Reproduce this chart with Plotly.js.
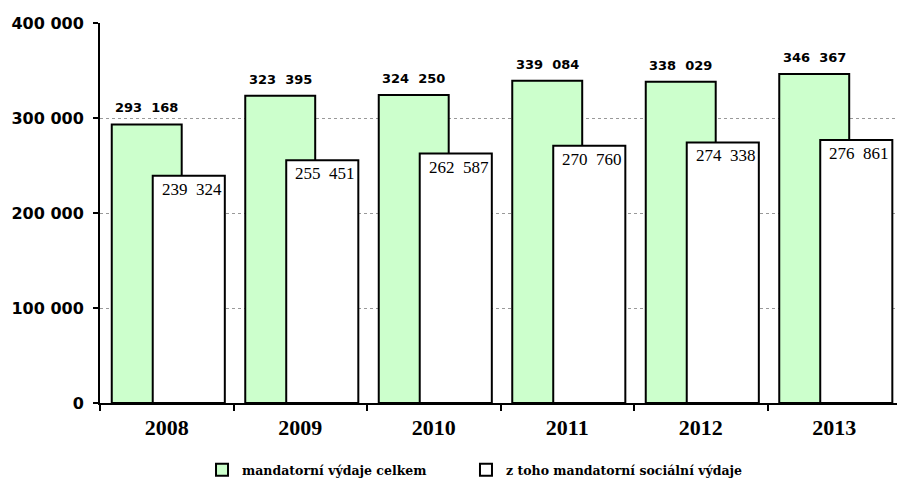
<!DOCTYPE html>
<html>
<head>
<meta charset="utf-8">
<script src="https://cdn.plot.ly/plotly-3.0.1.min.js"></script>
<style>
  html, body { margin: 0; padding: 0; background: #fff; }
  #chart { width: 897px; height: 483px; }
</style>
</head>
<body>
<div id="chart"></div>
<script>
// ---- data ----
const years = ['2008', '2009', '2010', '2011', '2012', '2013'];
const totalMandatory = [293168, 323395, 324250, 339084, 338029, 346367];
const socialMandatory = [239324, 255451, 262587, 270760, 274338, 276861];
const seriesNames = ['mandatorní výdaje celkem', 'z toho mandatorní sociální výdaje'];
const yTickVals = [0, 100000, 200000, 300000, 400000];
const yTickText = ['0', '100 000', '200 000', '300 000', '400 000'];

// ---- styling ----
const greenOffset = -0.412, greenWidth = 0.524;
const whiteOffset = -0.105, whiteWidth = 0.54;
const fmt = v => {
  const s = String(v);
  return s.slice(0, s.length - 3) + '\u00a0\u00a0' + s.slice(-3);
};

const traces = [
  {
    type: 'bar', name: seriesNames[0], x: years, y: totalMandatory,
    offset: greenOffset, width: greenWidth, legend: 'legend',
    marker: { color: '#ccffcc', line: { color: '#000', width: 2 } },
    hoverinfo: 'skip'
  },
  {
    type: 'bar', name: seriesNames[1], x: years, y: socialMandatory,
    offset: whiteOffset, width: whiteWidth, legend: 'legend2',
    marker: { color: '#ffffff', line: { color: '#000', width: 2 } },
    hoverinfo: 'skip'
  }
];

const annotations = [];
years.forEach((yr, i) => {
  annotations.push({
    x: i + greenOffset + greenWidth / 2, y: totalMandatory[i], xref: 'x', yref: 'y',
    text: fmt(totalMandatory[i]), showarrow: false, yanchor: 'bottom', yshift: 7,
    font: { family: 'DejaVu Sans', size: 13, color: '#000', weight: 'bold' }
  });
  annotations.push({
    x: i + whiteOffset + whiteWidth / 2, y: socialMandatory[i], xref: 'x', yref: 'y',
    text: fmt(socialMandatory[i]), showarrow: false, yanchor: 'top', yshift: -2, xshift: 3,
    font: { family: 'Liberation Serif', size: 17, color: '#000' }
  });
});

const legendFont = { family: 'DejaVu Serif', size: 12.5, color: '#000', weight: 'bold' };

const layout = {
  width: 897, height: 483,
  margin: { l: 100, r: 0, t: 23, b: 80 },
  paper_bgcolor: '#fff', plot_bgcolor: '#fff',
  barmode: 'overlay',
  showlegend: true,
  legend: {
    orientation: 'h', x: 0.128, xanchor: 'left',
    yref: 'container', y: 1 - 455 / 483, yanchor: 'top',
    font: legendFont
  },
  legend2: {
    orientation: 'h', x: 0.4592, xanchor: 'left',
    yref: 'container', y: 1 - 455 / 483, yanchor: 'top',
    font: legendFont
  },
  xaxis: {
    type: 'category', range: [-0.5, 5.47],
    showline: true, linecolor: '#000', linewidth: 2,
    ticks: 'outside', tickson: 'boundaries', ticklen: 6, tickwidth: 2, tickcolor: '#000',
    ticklabelstandoff: 4,
    tickfont: { family: 'Liberation Serif', size: 22, color: '#000', weight: 'bold' },
    showgrid: false, zeroline: false, fixedrange: true, automargin: false
  },
  yaxis: {
    range: [0, 400000],
    tickvals: yTickVals, ticktext: yTickText,
    showline: true, linecolor: '#000', linewidth: 2,
    ticks: 'outside', ticklen: 5, tickwidth: 2, tickcolor: '#000',
    ticklabelstandoff: 6,
    tickfont: { family: 'DejaVu Sans', size: 16, color: '#000', weight: 'bold' },
    showgrid: true, gridcolor: '#999', griddash: 'dot', gridwidth: 1,
    zeroline: false, fixedrange: true, automargin: false
  },
  annotations: annotations
};

Plotly.newPlot('chart', traces, layout, { displayModeBar: false, staticPlot: true });
</script>
</body>
</html>
